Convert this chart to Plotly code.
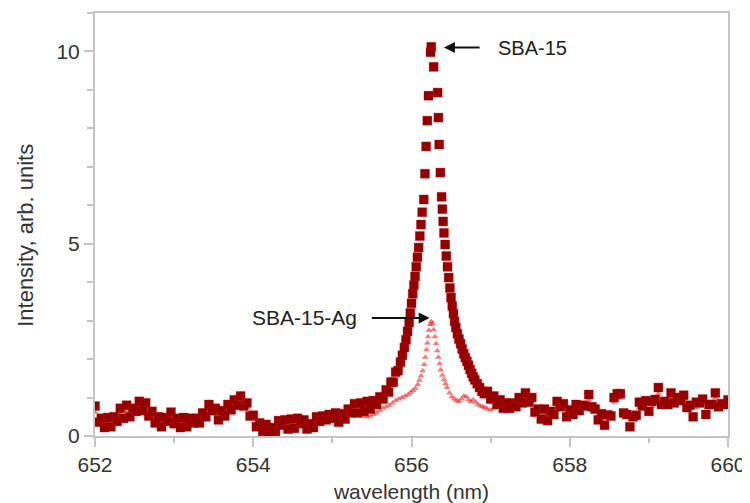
import numpy as np
import plotly.graph_objects as go

# ---------------- SBA-15 (dark red squares) ----------------
# left baseline, 652.00 .. 655.48 every 0.04 nm
sba_left_wl = np.round(np.arange(652.00, 655.481, 0.04), 3)
sba_left_int = [0.78, 0.36, 0.46, 0.22, 0.48, 0.24, 0.50, 0.38, 0.72, 0.46,
                0.80, 0.50, 0.72, 0.64, 0.90, 0.66, 0.86, 0.52, 0.64, 0.34,
                0.50, 0.24, 0.48, 0.38, 0.62, 0.32, 0.46, 0.22, 0.48, 0.24,
                0.46, 0.34, 0.46, 0.34, 0.60, 0.50, 0.82, 0.66, 0.72, 0.42,
                0.66, 0.52, 0.82, 0.68, 0.94, 0.80, 1.04, 0.78, 0.86, 0.52,
                0.54, 0.24, 0.34, 0.12, 0.30, 0.08, 0.22, 0.12, 0.40, 0.28,
                0.42, 0.18, 0.44, 0.20, 0.46, 0.32, 0.42, 0.18, 0.32, 0.22,
                0.50, 0.38, 0.52, 0.42, 0.56, 0.46, 0.60, 0.36, 0.58, 0.44,
                0.70, 0.60, 0.84, 0.60, 0.86, 0.64, 0.90, 0.70]

# peak region
sba_peak_wl = [655.52, 655.56, 655.60, 655.64, 655.68, 655.71, 655.74, 655.77, 655.80, 655.83,
               655.86, 655.885, 655.91, 655.93, 655.95, 655.97, 655.985, 656.00, 656.015, 656.03,
               656.045, 656.06, 656.075, 656.09, 656.105, 656.12, 656.135, 656.155, 656.17, 656.185,
               656.20, 656.215, 656.24, 656.25, 656.28, 656.33, 656.34, 656.35, 656.365, 656.38,
               656.39, 656.40, 656.41, 656.425, 656.44, 656.455, 656.47, 656.485, 656.50, 656.515,
               656.53, 656.545, 656.56, 656.58, 656.60, 656.62, 656.64, 656.66, 656.68, 656.70,
               656.72, 656.74, 656.76, 656.78, 656.80, 656.83, 656.86, 656.89, 656.92]
sba_peak_int = [0.92, 0.82, 1.02, 0.96, 1.20, 1.14, 1.40, 1.40, 1.66, 1.70,
                1.92, 2.10, 2.30, 2.50, 2.72, 2.95, 3.20, 3.45, 3.70, 3.92,
                4.15, 4.40, 4.65, 4.90, 5.20, 5.50, 5.82, 6.15, 6.82, 7.53,
                8.20, 8.85, 9.98, 10.12, 9.60, 8.93, 8.28, 7.58, 6.85, 6.22,
                5.90, 5.58, 5.28, 4.98, 4.68, 4.40, 4.12, 3.85, 3.60, 3.38,
                3.18, 2.98, 2.82, 2.66, 2.52, 2.40, 2.26, 2.14, 2.04, 1.94,
                1.84, 1.73, 1.63, 1.54, 1.46, 1.36, 1.26, 1.16, 1.10]

# right baseline, 656.96 .. 660.00 every 0.04 nm
sba_right_wl = np.round(np.arange(656.96, 660.001, 0.04), 3)
sba_right_int = [1.16, 0.96, 1.04, 0.82, 0.94, 0.72, 0.86, 0.72, 0.86, 0.76,
                 1.00, 0.86, 1.12, 0.88, 1.00, 0.62, 0.70, 0.44, 0.70, 0.40,
                 0.64, 0.56, 0.90, 0.76, 0.84, 0.50, 0.68, 0.56, 0.82, 0.66,
                 0.80, 0.78, 1.08, 0.76, 0.70, 0.42, 0.58, 0.28, 0.55, 0.52,
                 1.00, 1.10, 1.10, 0.60, 0.56, 0.24, 0.50, 0.54, 0.88, 0.78,
                 0.92, 0.64, 0.90, 0.95, 1.26, 0.82, 0.90, 0.82, 1.12, 0.86,
                 1.00, 0.92, 1.06, 0.74, 0.80, 0.50, 0.88, 0.86, 0.96, 0.56,
                 0.82, 0.82, 1.12, 0.76, 0.84, 0.82, 0.94]

# ---------------- SBA-15-Ag (light red) ----------------
ag_left_wl = np.round(np.arange(652.00, 655.201, 0.08), 3)
ag_left_int = [0.62, 0.40, 0.34, 0.44, 0.58, 0.66, 0.58, 0.74, 0.72, 0.52,
               0.44, 0.34, 0.48, 0.40, 0.34, 0.40, 0.32, 0.54, 0.68, 0.58,
               0.60, 0.68, 0.80, 0.90, 0.74, 0.50, 0.30, 0.26, 0.18, 0.26,
               0.36, 0.30, 0.40, 0.28, 0.26, 0.36, 0.46, 0.42, 0.54, 0.44,
               0.56]

ag_peak_wl = [655.28, 655.32, 655.36, 655.40, 655.44, 655.48, 655.52, 655.56, 655.60, 655.64,
              655.68, 655.72, 655.76, 655.80, 655.84, 655.88, 655.92, 655.96, 655.99, 656.02,
              656.05, 656.08, 656.10, 656.12, 656.14, 656.16, 656.175, 656.19, 656.20, 656.21,
              656.22, 656.235, 656.25, 656.265, 656.28, 656.295, 656.31, 656.325, 656.34, 656.355,
              656.37, 656.39, 656.41, 656.43, 656.45, 656.48, 656.51, 656.54, 656.57, 656.60,
              656.63, 656.66, 656.69, 656.72, 656.75, 656.78, 656.81, 656.84, 656.87, 656.90,
              656.93, 656.96, 657.00, 657.04, 657.08, 657.12]
ag_peak_int = [0.62, 0.58, 0.55, 0.52, 0.50, 0.52, 0.56, 0.60, 0.66, 0.72,
               0.76, 0.80, 0.86, 0.92, 0.96, 1.00, 1.04, 1.08, 1.14, 1.18,
               1.24, 1.34, 1.45, 1.56, 1.70, 1.86, 2.05, 2.24, 2.42, 2.58,
               2.75, 2.90, 2.98, 2.92, 2.76, 2.58, 2.40, 2.22, 2.05, 1.88,
               1.72, 1.58, 1.46, 1.36, 1.26, 1.12, 1.02, 0.96, 0.92, 0.90,
               0.96, 1.04, 1.02, 0.94, 0.90, 0.94, 0.88, 0.82, 0.78, 0.76,
               0.74, 0.70, 0.68, 0.72, 0.76, 0.80]

ag_right_wl = np.round(np.arange(657.20, 660.001, 0.08), 3)
ag_right_int = [0.72, 0.80, 0.86, 0.98, 0.86, 0.64, 0.56, 0.58, 0.76, 0.70,
                0.62, 0.68, 0.74, 0.94, 0.64, 0.44, 0.50, 0.88, 0.98, 0.50,
                0.44, 0.74, 0.86, 0.76, 1.10, 0.84, 0.98, 0.94, 0.92, 0.74,
                0.74, 0.90, 0.76, 0.98, 0.78, 0.80]

sba_wl = list(sba_left_wl) + sba_peak_wl + list(sba_right_wl)
sba_int = sba_left_int + sba_peak_int + sba_right_int
ag_wl = list(ag_left_wl) + ag_peak_wl + list(ag_right_wl)
ag_int = ag_left_int + ag_peak_int + ag_right_int

x_ticks = [652, 654, 656, 658, 660]
y_ticks = [0, 5, 10]

FONT = "Liberation Sans, Arial"

fig = go.Figure()
fig.add_trace(go.Scatter(
    x=ag_wl, y=ag_int, mode="markers", name="SBA-15-Ag",
    marker=dict(symbol="triangle-up", size=6, color="rgba(255,30,30,0.6)",
                line=dict(width=0))))
fig.add_trace(go.Scatter(
    x=sba_wl, y=sba_int, mode="markers", name="SBA-15",
    marker=dict(symbol="square", size=9, color="#930000",
                line=dict(width=0.8, color="rgba(200,0,0,0.45)"))))

axis_col = "#c4c4c4"
font_col = "#333333"
fig.update_xaxes(
    range=[652, 660], tickvals=x_ticks, ticktext=[str(v) for v in x_ticks],
    showline=True, linecolor=axis_col, linewidth=2, mirror=True,
    ticks="outside", ticklen=9, tickcolor=axis_col, tickwidth=1.5,
    minor=dict(dtick=1, ticks="outside", ticklen=5, tickcolor=axis_col, tickwidth=1.5),
    showgrid=False, zeroline=False, automargin=False,
    tickfont=dict(family=FONT, size=21, color=font_col),
    title=dict(text="wavelength (nm)", standoff=9,
               font=dict(family=FONT, size=21, color=font_col)))
fig.update_yaxes(
    range=[0, 11], tickvals=y_ticks, ticktext=[str(v) for v in y_ticks],
    showline=True, linecolor=axis_col, linewidth=2, mirror=True,
    ticks="outside", ticklen=9, tickcolor=axis_col, tickwidth=1.5,
    minor=dict(dtick=1, ticks="outside", ticklen=6, tickcolor=axis_col, tickwidth=1.5),
    showgrid=False, zeroline=False, automargin=False,
    tickfont=dict(family=FONT, size=21, color=font_col))

# y-axis title as a rotated annotation (sits a little below the plot centre)
fig.add_annotation(x=-0.111, y=0.475, xref="paper", yref="paper",
                   text="Intensity, arb. units", textangle=-90, showarrow=False,
                   xanchor="center", yanchor="middle",
                   font=dict(family=FONT, size=22, color=font_col))

fig.add_annotation(x=656.41, y=10.1, ax=656.88, ay=10.1, xref="x", yref="y",
                   axref="x", ayref="y", text="", showarrow=True,
                   arrowhead=2, arrowsize=1.1, arrowwidth=2, arrowcolor="#111111")
fig.add_annotation(x=657.07, y=10.1, xref="x", yref="y", text="SBA-15",
                   showarrow=False, xanchor="left",
                   font=dict(family=FONT, size=20, color="#222222"))
fig.add_annotation(x=656.23, y=3.07, ax=655.48, ay=3.07, xref="x", yref="y",
                   axref="x", ayref="y", text="", showarrow=True,
                   arrowhead=2, arrowsize=1.1, arrowwidth=2, arrowcolor="#111111")
fig.add_annotation(x=655.34, y=3.07, xref="x", yref="y", text="SBA-15-Ag",
                   showarrow=False, xanchor="right",
                   font=dict(family=FONT, size=21, color="#222222"))

# page body adds an 8px offset, so the figure is sized to fill the rest of the window
fig.update_layout(
    width=742, height=495,
    margin=dict(l=87, r=22, t=5, b=67),
    paper_bgcolor="white", plot_bgcolor="white",
    showlegend=False)

fig.write_html("out.html")
